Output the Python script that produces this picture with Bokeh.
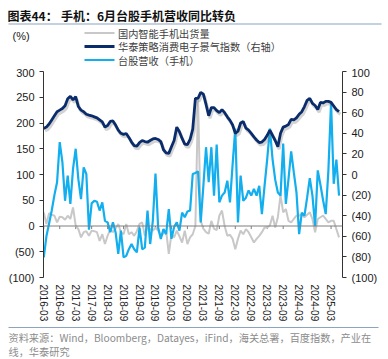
from bokeh.plotting import figure
from bokeh.layouts import column
from bokeh.models import (Range1d, LinearAxis, FixedTicker, Span, Label, BoxAnnotation)
from bokeh.embed import file_html
from bokeh.resources import INLINE

# ---------------- data ----------------
months = [f"{2016 + (2 + i) // 12}-{(2 + i) % 12 + 1:02d}" for i in range(112)]

# 国内智能手机出货量 (%, left axis)
phone_ship = [26.5, 4, 25, 22, 20, 7, 18, 17, 12, 20, 13.6, 36, 0.6, -6, -22, -12, -10, -19, -9, -10,
              -12, -29, -16, -35, -19, -6, -12, -5, 4, -12, -16, 4, -16, -12, -19, -10, 4, 7, -19, -3,
              -6, -9, -3, -9, -19, -14, -9, -54, -16, -22, -9, -20, -32, -9, -35, -22, -16, 0, 245, 10,
              -5, -12, -15, 10, -5, -8, 20, 30, 0, -19, -17, -25, -45, -25, -9, -16, -6, -12, -22, -32,
              -25, -19, -12, -3, -3, 1, 20, -3, 17, 60, 26.5, 33, 10, 7, 13.6, 20, 20, 23, 17, 22,
              26.5, 13.6, -12, 13.6, 17, 20, 13.6, 7, 10, 10, -6, -22]

# 华泰策略消费电子景气指数 (right axis)
ce_index = [44.7, 46, 49, 53, 57, 61, 62.5, 64, 66.7, 73.5, 76, 72.5, 75.5, 66, 62.5, 61, 58.5, 57.7, 57, 56,
            55, 53, 51, 46, 47.5, 51.5, 52, 48, 43, 40, 39, 39.8, 36, 31.5, 28, 27.5, 31, 33, 32, 31.3,
            33, 34.5, 35, 34, 32, 24, 21, 20.5, 27, 33, 46, 41.5, 35, 29.5, 29, 34, 44, 74, 74, 79.8,
            78, 68, 57, 65, 65, 62, 60, 63, 60, 56, 52.5, 48, 40, 42, 50, 51.5, 45, 43, 40, 36.5,
            33.5, 31, 31.5, 34, 38, 43, 38, 33, 27, 40, 46, 47, 48.6, 53.5, 53, 55, 58.5, 61, 66, 72,
            74, 69, 67, 63, 70, 69.5, 71, 71, 70, 66.5, 63, 61]

# 台股营收（手机） (%, left axis)
tw_rev = [-61, -20, 5, 30, 60, 85, 163, 124, 49, 98, 43, 111, 150, 91, 52, 114, 101, -7, 44, 49,
          47, 30, 46, 10, 7, -12, 7, -12, -54, -9, -61, -58, -45, -35, -45, -51, -3, -45, -42, 30,
          -35, 10, 102, -3, -25, -6, -16, 33, -25, -2, 7, -9, 26, 17, 28, 30, 101, 103, 106, 7,
          78, 153, 85, 153, 59, 158, 46, 59, 65, 88, 46, 120, 189, 7, 98, 49, 55, 69, 59, 72,
          59, 78, 23, 78, 130, 189, 130, 90, 65, 59, 160, 43, 91, 145, 104, 65, -16, 26, 20, 55,
          93, 59, 0, 108, 80, 50, 23, 108, 240, 82, 129, 59]

left_ticks = [-100, -50, 0, 50, 100, 150, 200, 250, 300]
right_ticks = [-100, -80, -60, -40, -20, 0, 20, 40, 60, 80, 100]
x_ticks = list(range(0, len(months), 6))

legend_names = ["国内智能手机出货量", "华泰策略消费电子景气指数（右轴）", "台股营收（手机）"]
title_a = "图表44："
title_b = "手机：6月台股手机营收同比转负"
unit_text = "(%)"
source_1 = "资料来源：Wind，Bloomberg，Datayes，iFind，海关总署，百度指数，产业在"
source_2 = "线，华泰研究"

# ---------------- styles ----------------
CJK = "Noto Sans CJK SC"
LAT = "Liberation Sans"
W = 388
C_GRAY, C_BLUE, C_NAVY = "#C8C8C8", "#12AEEE", "#0B2C6B"
W_GRAY, W_BLUE, W_NAVY = 2, 2.2, 2.8
C_RULE = "#8EA3BF"


def blank(height):
    # block whose frame is the whole canvas, data units = pixels (y downwards)
    f = figure(width=W, height=height, x_range=Range1d(0, W), y_range=Range1d(height, 0),
               x_axis_type=None, y_axis_type=None, output_backend="svg", toolbar_location=None,
               min_border_left=0, min_border_right=0, min_border_top=0, min_border_bottom=0,
               frame_align=False)
    f.outline_line_color = None
    f.xgrid.visible = False
    f.ygrid.visible = False
    f.background_fill_color = "white"
    f.border_fill_color = "white"
    return f


def lab(f, x, y, text, font=CJK, size="10px", color="#1a1a1a", style="normal"):
    f.add_layout(Label(x=x, y=y, text=text, text_font=font, text_font_size=size,
                       text_color=color, text_font_style=style,
                       text_baseline="middle", text_align="left"))


def bar(f, x0, x1, yc, thick, color):
    f.add_layout(BoxAnnotation(left=x0, right=x1, top=yc - thick / 2, bottom=yc + thick / 2,
                               fill_color=color, fill_alpha=1, line_color=None))


# ---------------- top block: title, rule, unit, legend ----------------
T_H = 66
top = blank(T_H)
lab(top, 7, 14.5, title_a, size="12px", style="bold", color="#111111")
lab(top, 60.5, 14.5, title_b, size="12px", style="bold", color="#111111")
bar(top, 8, 381, 23.5, 1, C_RULE)
lab(top, 12, 35, unit_text, font=LAT, size="11px")
rows = [32.5, 46, 59.5]
for name, yc, col, lw in zip(legend_names, rows, [C_GRAY, C_NAVY, C_BLUE], [W_GRAY, W_NAVY, W_BLUE]):
    bar(top, 84, 114, yc, lw, col)
    lab(top, 117.5, yc, name, size="10.2px", color="#404040")

# ---------------- main chart ----------------
M_H = 260
p = figure(width=W, height=M_H, x_range=Range1d(-0.1, 112.3), y_range=Range1d(-100, 300),
           output_backend="svg", toolbar_location=None, frame_align=False,
           min_border_left=43, min_border_right=46, min_border_top=5, min_border_bottom=49)
p.extra_y_ranges = {"right": Range1d(-100, 100)}
p.outline_line_color = None
p.xgrid.visible = False
p.ygrid.visible = False
p.background_fill_color = "white"
p.border_fill_color = "white"


def style_y(ax):
    ax.axis_line_color = "#333333"
    ax.axis_line_width = 1
    ax.major_tick_line_color = "#333333"
    ax.major_tick_out = 4
    ax.major_tick_in = 0
    ax.minor_tick_line_color = None
    ax.major_label_text_font = LAT
    ax.major_label_text_font_size = "11px"
    ax.major_label_text_color = "#1a1a1a"
    ax.major_label_standoff = 5


ly = p.yaxis[0]
ly.ticker = FixedTicker(ticks=left_ticks)
ly.major_label_overrides = {t: (f"({abs(t)})" if t < 0 else str(t)) for t in left_ticks}
style_y(ly)

ry = LinearAxis(y_range_name="right", ticker=FixedTicker(ticks=right_ticks))
ry.major_label_overrides = {t: (f"({abs(t)})" if t < 0 else str(t)) for t in right_ticks}
style_y(ry)
p.add_layout(ry, "right")

bx = p.xaxis[0]
bx.ticker = FixedTicker(ticks=x_ticks)
bx.major_label_overrides = {t: months[t] for t in x_ticks}
bx.major_label_orientation = "vertical"
bx.axis_line_color = None
bx.major_tick_line_color = None
bx.minor_tick_line_color = None
bx.major_tick_out = 0
bx.major_tick_in = 0
bx.major_label_standoff = 7
bx.major_label_text_font = LAT
bx.major_label_text_font_size = "10px"
bx.major_label_text_color = "#1a1a1a"

# zero line with its tick marks
p.add_layout(Span(location=0, dimension="width", line_color="#7f7f7f", line_width=1))
p.segment(x0=x_ticks, y0=[0] * len(x_ticks), x1=x_ticks, y1=[-6] * len(x_ticks),
          line_color="#7f7f7f", line_width=1)

xs = list(range(len(months)))
p.line(xs, phone_ship, line_color=C_GRAY, line_width=W_GRAY)
p.line(xs, tw_rev, line_color=C_BLUE, line_width=W_BLUE)
p.line([x + 0.5 for x in xs], [v - 2.5 for v in ce_index], y_range_name="right",
       line_color="#808080", line_alpha=0.35, line_width=3)
p.line(xs, ce_index, y_range_name="right", line_color=C_NAVY, line_width=W_NAVY)

# ---------------- bottom block: rule + source ----------------
B_H = 32
bot = blank(B_H)
bar(bot, 8, 378, 1, 1, C_RULE)
lab(bot, 8, 11, source_1, size="10.2px", color="#8c8c8c")
lab(bot, 8, 24.5, source_2, size="10.2px", color="#8c8c8c")

layout = column(top, p, bot, spacing=0)
open("out.html", "w").write(file_html(layout, INLINE))
